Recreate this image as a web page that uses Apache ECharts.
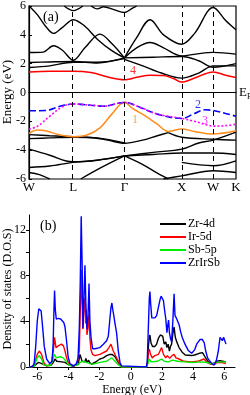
<!DOCTYPE html>
<html><head><meta charset="utf-8">
<script src="https://cdn.jsdelivr.net/npm/echarts@6/dist/echarts.min.js"></script>
<style>html,body{margin:0;padding:0;background:#fff}#c{width:250px;height:395px}</style>
</head><body><div id="c"></div>
<script>
// ---------- Band structure (panel a) ----------
const kTicks = [0, 0.214, 0.461, 0.738, 0.890, 1.0];
const kNames = ['W', 'L', 'Γ', 'X', 'W', 'K'];
const energyTicks = [-6, -4, -2, 0, 2, 4, 6];

const band4 = [[0,1.43],[0.1,1.48],[0.214,1.48],[0.3,1.38],[0.4,1.0],[0.461,0.88],[0.52,1.05],[0.585,1.2],[0.65,1.18],[0.70,0.95],[0.738,0.72],[0.8,1.0],[0.89,1.43],[0.95,1.2],[1,1.04]];
const band2 = [[0,-1.27],[0.08,-1.25],[0.15,-0.95],[0.214,-0.8],[0.3,-0.88],[0.36,-0.95],[0.461,-0.69],[0.54,-1.05],[0.62,-1.5],[0.738,-1.8],[0.8,-1.45],[0.85,-1.2],[0.89,-1.25],[0.95,-1.45],[1,-1.65]];
const band3 = [[0,-2.54],[0.04,-2.35],[0.1,-1.65],[0.166,-0.95],[0.214,-0.8],[0.3,-0.88],[0.36,-0.95],[0.461,-0.69],[0.54,-1.05],[0.62,-1.5],[0.738,-1.8],[0.8,-2.0],[0.86,-2.25],[0.89,-2.33],[0.95,-2.3],[1,-2.2]];
const band1 = [[0,-2.84],[0.04,-2.6],[0.08,-2.65],[0.15,-2.95],[0.214,-3.07],[0.28,-2.95],[0.343,-2.45],[0.4,-1.5],[0.461,-0.68],[0.5,-1.1],[0.56,-1.6],[0.62,-2.2],[0.673,-2.7],[0.738,-2.54],[0.8,-2.7],[0.89,-2.88],[1,-2.66]];

const cbA = [[0,6.0],[0.04,5.4],[0.08,4.6],[0.118,4.1],[0.16,4.5],[0.214,5.05],[0.27,4.6],[0.33,3.7],[0.40,2.9],[0.461,2.4]];
const cbB = [[0,2.77],[0.069,2.8],[0.118,3.24],[0.16,2.95],[0.214,2.24],[0.27,3.1],[0.343,4.05],[0.40,3.4],[0.461,2.4]];
const cbC = [[0,2.08],[0.1,2.12],[0.214,2.15],[0.33,2.05],[0.461,2.4]];
const cbD = [[0,1.73],[0.1,1.85],[0.214,2.1],[0.33,2.1],[0.461,2.35]];
const cbE = [[0.17,6.0],[0.214,5.68],[0.26,6.0]];
const cbF = [[0.30,6.0],[0.33,5.8],[0.36,5.95],[0.41,5.75],[0.461,5.55],[0.50,5.85],[0.52,6.0]];
const cbG = [[0.461,2.4],[0.52,3.8],[0.585,5.05],[0.65,4.0],[0.738,3.35],[0.80,4.1],[0.89,5.9],[0.95,5.0],[1,4.35]];
const cbH = [[0.461,2.4],[0.52,3.1],[0.585,3.47],[0.65,3.1],[0.738,2.54],[0.82,2.7],[0.89,2.78],[1,2.66]];
const cbI = [[0.461,2.4],[0.6,2.45],[0.738,2.5],[0.82,2.2],[0.89,1.75],[1,2.0]];
const cbJ = [[0.461,2.3],[0.55,1.85],[0.64,1.35],[0.738,1.0],[0.82,1.35],[0.89,1.85],[1,1.85]];

const vbA = [[0,-2.92],[0.1,-3.0],[0.214,-3.07],[0.30,-3.12],[0.38,-3.3],[0.461,-3.52],[0.55,-3.3],[0.62,-3.0],[0.673,-2.78]];
const vbB = [[0,-3.2],[0.1,-3.15],[0.214,-3.1],[0.33,-3.15],[0.461,-3.5]];
const vbD = [[0.673,-2.78],[0.738,-3.1],[0.89,-3.24],[1,-3.3]];
const vbE = [[0.461,-4.4],[0.6,-4.15],[0.738,-3.93],[0.82,-3.5],[0.89,-3.3],[1,-2.75]];
const vbF = [[0.461,-4.4],[0.6,-4.3],[0.738,-4.2],[0.89,-4.2],[1,-4.3]];
const vbG = [[0,-3.93],[0.1,-4.35],[0.18,-4.75],[0.214,-4.8],[0.3,-4.75],[0.461,-4.4]];
const vbH = [[0,-5.2],[0.1,-5.1],[0.214,-4.85],[0.33,-4.7],[0.461,-4.4]];
const vbI = [[0,-5.55],[0.05,-5.7],[0.1,-6.0]];
const vbJ = [[0.25,-6.0],[0.35,-5.2],[0.461,-4.4]];
const vbK = [[0.461,-4.4],[0.55,-5.0],[0.62,-5.6],[0.673,-6.0]];
const vbL = [[0.65,-6.0],[0.738,-5.78],[0.89,-5.43],[1,-5.55]];
const vbM = [[0.738,-4.85],[0.89,-5.08],[1,-4.74]];
const blackBands = [cbA,cbB,cbC,cbD,cbE,cbF,cbG,cbH,cbI,cbJ,vbA,vbB,vbD,vbE,vbF,vbG,vbH,vbI,vbJ,vbK,vbL,vbM];

const bandLabels = [['4',0.502,1.5,'#ff0000'],['2',0.816,-0.85,'#0000ff'],['3',0.85,-1.97,'#ff00ff'],['1',0.512,-1.9,'#ff8c1a']];

// ---------- DOS (panel b) ----------
const dosTicksX = [-6, -4, -2, 0, 2, 4, 6];
const dosTicksY = [0, 4, 8, 12];
const dosNames = ['Zr-4d', 'Ir-5d', 'Sb-5p', 'ZrIrSb'];

const dosZr = [[-6.5,0],[-6.2,0.1],[-6.09,0.2],[-5.93,0.4],[-5.83,0.5],[-5.7,0.3],[-5.4,0.1],[-5.1,0.2],[-4.97,0.4],[-4.86,0.7],[-4.75,0.5],[-4.44,0.45],[-4.22,0.4],[-4.01,0.2],[-3.7,0.05],[-3.37,0.25],[-3.26,1.1],[-3.2,1.26],[-3.12,0.5],[-3.03,0.6],[-2.95,0.45],[-2.88,0.75],[-2.8,0.4],[-2.7,0.6],[-2.64,0.4],[-2.51,0.25],[-2.41,0.4],[-2.19,0.5],[-1.98,0.7],[-1.76,0.8],[-1.55,1.0],[-1.34,1.1],[-1.2,1.1],[-1.12,1.0],[-1.01,0.9],[-0.91,0.75],[-0.8,0.4],[-0.69,0.2],[-0.59,0],[1.0,0],[1.08,0.5],[1.13,1.8],[1.19,2.6],[1.23,2.8],[1.3,2.1],[1.4,1.8],[1.55,1.8],[1.66,2.0],[1.77,2.5],[1.9,2.8],[1.98,2.9],[2.05,2.7],[2.15,2.0],[2.25,2.2],[2.32,1.7],[2.4,2.0],[2.48,1.4],[2.55,1.8],[2.62,2.0],[2.7,2.9],[2.78,3.5],[2.86,2.6],[2.95,2.2],[3.1,1.7],[3.3,1.3],[3.5,1.05],[3.9,1.0],[4.1,1.05],[4.4,1.2],[4.6,1.26],[4.7,1.1],[4.85,0.7],[5.0,0.4],[5.2,0.3],[5.4,0.35],[5.55,0.5],[5.7,0.55],[5.9,0.5],[6.1,0.45]];
const dosIr = [[-6.5,0],[-6.3,0],[-6.15,0.4],[-6.0,1.1],[-5.87,1.4],[-5.72,1.1],[-5.58,0.4],[-5.4,0.1],[-5.1,0.2],[-4.97,1.4],[-4.89,2.6],[-4.8,1.7],[-4.65,1.85],[-4.45,2.0],[-4.32,1.85],[-4.22,1.4],[-4.12,0.8],[-4.01,0.4],[-3.9,0.2],[-3.6,0.1],[-3.43,0.4],[-3.3,1.4],[-3.24,5.0],[-3.18,8.5],[-3.12,5.5],[-3.07,3.3],[-3.0,5.8],[-2.95,6.0],[-2.9,3.8],[-2.85,5.0],[-2.81,2.8],[-2.74,3.5],[-2.68,4.6],[-2.62,2.5],[-2.55,1.5],[-2.45,1.1],[-2.3,1.0],[-1.98,1.1],[-1.76,1.26],[-1.55,1.4],[-1.4,1.7],[-1.27,2.0],[-1.21,1.85],[-1.12,1.4],[-1.01,1.1],[-0.91,1.0],[-0.8,0.5],[-0.69,0.2],[-0.59,0],[1.0,0],[1.08,0.4],[1.13,1.3],[1.19,1.55],[1.27,1.1],[1.38,0.8],[1.55,1.0],[1.77,1.1],[1.98,1.7],[2.1,1.1],[2.25,0.8],[2.35,1.0],[2.5,0.75],[2.65,1.0],[2.78,1.1],[2.9,0.8],[3.1,0.7],[3.4,0.5],[3.9,0.45],[4.3,0.5],[4.7,0.7],[4.9,0.4],[5.1,0.25],[5.35,0.2],[5.55,0.4],[5.8,0.4],[6.1,0.3]];
const dosSb = [[-6.5,0],[-6.2,0.05],[-6.15,0.2],[-6.0,0.8],[-5.87,1.0],[-5.72,0.7],[-5.58,0.2],[-5.2,0.1],[-5.02,0.5],[-4.91,1.1],[-4.76,0.8],[-4.54,0.9],[-4.33,0.8],[-4.15,0.5],[-4.0,0.2],[-3.8,0.1],[-3.37,0.2],[-3.26,0.4],[-3.15,0.3],[-3.05,0.5],[-2.85,0.4],[-2.64,0.3],[-2.41,0.25],[-1.98,0.4],[-1.55,0.5],[-1.34,0.7],[-1.21,0.8],[-1.01,0.5],[-0.8,0.2],[-0.69,0.05],[-0.6,0],[1.0,0],[1.08,0.2],[1.13,0.5],[1.19,0.7],[1.3,0.45],[1.7,0.5],[1.98,0.7],[2.15,0.5],[2.4,0.45],[2.7,0.6],[2.8,0.7],[3.0,0.5],[3.5,0.45],[3.9,0.4],[4.5,0.45],[4.9,0.4],[5.2,0.25],[5.5,0.4],[5.8,0.45],[6.1,0.45]];
const dosTotal = [[-6.5,0],[-6.3,0.05],[-6.2,0.3],[-6.1,1.8],[-6.0,4.0],[-5.9,5.1],[-5.83,5.2],[-5.75,4.9],[-5.65,3.4],[-5.55,1.8],[-5.4,0.7],[-5.2,0.3],[-5.05,0.5],[-4.98,2.0],[-4.93,5.0],[-4.89,6.7],[-4.84,5.0],[-4.78,4.2],[-4.65,4.25],[-4.5,4.2],[-4.38,4.1],[-4.3,3.9],[-4.22,3.5],[-4.12,2.3],[-4.02,0.9],[-3.9,0.3],[-3.7,0.1],[-3.5,0.25],[-3.38,0.8],[-3.3,3.5],[-3.24,7.5],[-3.18,13.2],[-3.12,9.0],[-3.07,3.4],[-3.0,6.0],[-2.94,8.9],[-2.88,5.5],[-2.81,3.3],[-2.74,4.5],[-2.68,7.3],[-2.62,4.0],[-2.55,2.6],[-2.45,1.6],[-2.3,1.6],[-2.19,1.56],[-1.98,1.7],[-1.76,2.0],[-1.55,2.3],[-1.44,2.7],[-1.34,4.2],[-1.27,5.2],[-1.21,5.6],[-1.15,5.0],[-1.1,4.6],[-1.01,3.8],[-0.91,3.0],[-0.80,1.4],[-0.69,0.4],[-0.59,0.1],[-0.5,0],[1.0,0],[1.05,0.3],[1.08,1.4],[1.13,3.5],[1.19,6.0],[1.23,6.6],[1.28,5.5],[1.35,4.3],[1.45,4.2],[1.55,4.3],[1.66,4.5],[1.77,5.2],[1.88,5.9],[1.95,6.2],[2.02,6.1],[2.1,5.8],[2.15,5.2],[2.25,4.2],[2.32,3.0],[2.37,3.6],[2.43,4.1],[2.48,3.0],[2.55,2.5],[2.62,2.2],[2.7,4.0],[2.78,6.4],[2.84,4.5],[2.92,4.3],[3.0,4.2],[3.1,3.7],[3.2,3.1],[3.3,2.6],[3.48,2.0],[3.69,1.45],[3.91,1.2],[4.1,1.5],[4.23,2.0],[4.44,2.4],[4.6,2.4],[4.72,2.1],[4.81,1.4],[4.93,0.8],[5.08,0.5],[5.23,0.25],[5.36,0.2],[5.5,0.6],[5.62,1.4],[5.73,2.6],[5.8,2.7],[5.88,2.3],[5.96,2.6],[6.05,2.6],[6.11,2.0]];
const dosColors = ['#000000', '#ff0000', '#00ee00', '#0000ff'];

const FONT = 'Liberation Serif';
const chart = echarts.init(document.getElementById('c'), null, {renderer: 'canvas'});

const series = [];
series.push({
  type: 'line', xAxisIndex: 0, yAxisIndex: 0, data: [], silent: true,
  markLine: {
    symbol: 'none', silent: true, animation: false,
    lineStyle: {color: '#000', type: [5, 4], width: 1},
    label: {show: false},
    data: kTicks.slice(1, 5).map(k => ({xAxis: k}))
  }
});
series.push({
  type: 'line', xAxisIndex: 0, yAxisIndex: 0, data: [], silent: true,
  markLine: {
    symbol: 'none', silent: true, animation: false,
    lineStyle: {color: '#000', type: [6, 4], width: 1.2},
    label: {show: true, position: 'end', distance: 3, formatter: '{e|E}{f|F}',
      rich: {e: {fontFamily: FONT, fontSize: 13, color: '#000'}, f: {fontFamily: FONT, fontSize: 8, color: '#000', verticalAlign: 'bottom', padding: [8, 0, 0, 0]}}},
    data: [{yAxis: 0}]
  }
});
blackBands.forEach(b => series.push({
  type: 'line', xAxisIndex: 0, yAxisIndex: 0, data: b, smooth: 0.35, showSymbol: false,
  lineStyle: {color: '#000', width: 1.4}, silent: true
}));
series.push({type:'line', xAxisIndex:0, yAxisIndex:0, data: band4, smooth: 0.35, showSymbol:false, lineStyle:{color:'#ff0000', width:1.5}});
series.push({type:'line', xAxisIndex:0, yAxisIndex:0, data: band1, smooth: 0.35, showSymbol:false, lineStyle:{color:'#ff8c1a', width:1.5}});
series.push({type:'line', xAxisIndex:0, yAxisIndex:0, data: band2, smooth: 0.35, showSymbol:false, lineStyle:{color:'#0000ff', width:1.6, type:[7,3]}});
series.push({type:'line', xAxisIndex:0, yAxisIndex:0, data: band3, smooth: 0.35, showSymbol:false, lineStyle:{color:'#ff00ff', width:1.6, type:[2,2]}});
series.push({
  type: 'scatter', xAxisIndex: 0, yAxisIndex: 0, symbolSize: 0, silent: true,
  data: bandLabels.map(l => ({value: [l[1], l[2]], label: {show: true, position: 'inside', formatter: l[0], color: l[3], fontFamily: FONT, fontSize: 12}}))
});
const dosData = [dosZr, dosIr, dosSb, dosTotal];
[0, 1, 2, 3].forEach(i => series.push({
  name: dosNames[i], type: 'line', xAxisIndex: 1, yAxisIndex: 1, data: dosData[i], showSymbol: false,
  lineStyle: {color: dosColors[i], width: 1.4}, itemStyle: {color: dosColors[i]}, z: 2 + i
}));

const option = {
  animation: false,
  backgroundColor: '#fff',
  textStyle: {fontFamily: FONT},
  grid: [
    {left: 29, right: 14, top: 6, height: 173, show: true, borderColor: '#000', borderWidth: 1.2, outerBoundsMode: 'none', containLabel: false},
    {left: 29, right: 15, top: 215, bottom: 28, outerBoundsMode: 'none', containLabel: false}
  ],
  xAxis: [
    {gridIndex: 0, type: 'value', min: 0, max: 1,
      axisLine: {show: true, lineStyle: {color: '#000', width: 1.2}},
      axisTick: {show: false},
      splitLine: {show: false},
      axisLabel: {customValues: kTicks, formatter: v => { const i = kTicks.findIndex(k => Math.abs(k - v) < 1e-6); return i >= 0 ? kNames[i] : ''; },
        color: '#000', fontFamily: FONT, fontSize: 13, margin: 2}},
    {gridIndex: 1, type: 'value', min: -6.53, max: 6.69,
      axisLine: {show: true, onZero: false, lineStyle: {color: '#000', width: 1}},
      axisTick: {show: true, customValues: dosTicksX, length: 3, inside: false, lineStyle: {color: '#000'}},
      splitLine: {show: false},
      axisLabel: {customValues: dosTicksX, color: '#000', fontFamily: FONT, fontSize: 12, margin: 4},
      name: 'Energy (eV)', nameLocation: 'middle', nameGap: 16,
      nameTextStyle: {color: '#000', fontFamily: FONT, fontSize: 12}}
  ],
  yAxis: [
    {gridIndex: 0, type: 'value', min: -6, max: 6, interval: 2,
      axisLine: {show: true, lineStyle: {color: '#000', width: 1.2}},
      axisTick: {show: true, inside: true, length: 3, lineStyle: {color: '#000'}},
      splitLine: {show: false},
      axisLabel: {color: '#000', fontFamily: FONT, fontSize: 12, margin: 3}},
    {gridIndex: 1, type: 'value', min: 0, max: 13.3,
      axisLine: {show: true, onZero: false, lineStyle: {color: '#000', width: 1}},
      axisTick: {show: true, customValues: [0, 2, 4, 6, 8, 10, 12], length: 3, lineStyle: {color: '#000'}},
      splitLine: {show: false},
      axisLabel: {customValues: dosTicksY, color: '#000', fontFamily: FONT, fontSize: 12, margin: 3}}
  ],
  legend: {
    data: dosNames, orient: 'vertical', left: 155, top: 213, itemGap: 1,
    itemWidth: 26, itemHeight: 2, icon: 'rect',
    textStyle: {color: '#000', fontFamily: FONT, fontSize: 12, padding: [0, 0, 0, -3]}
  },
  graphic: [
    {type: 'text', left: 43, top: 10, style: {text: '(a)', font: '14px "Liberation Serif"', fill: '#000'}},
    {type: 'text', left: 40, top: 219, style: {text: '(b)', font: '14px "Liberation Serif"', fill: '#000'}},
    {type: 'text', x: 8, y: 92, rotation: Math.PI / 2, style: {text: 'Energy (eV)', font: '13px "Liberation Serif"', fill: '#000', align: 'center', verticalAlign: 'middle'}},
    {type: 'text', x: 8, y: 289, rotation: Math.PI / 2, style: {text: 'Density of states (D.O.S)', font: '12px "Liberation Serif"', fill: '#000', align: 'center', verticalAlign: 'middle'}}
  ],
  series: series
};
chart.setOption(option);
</script></body></html>
